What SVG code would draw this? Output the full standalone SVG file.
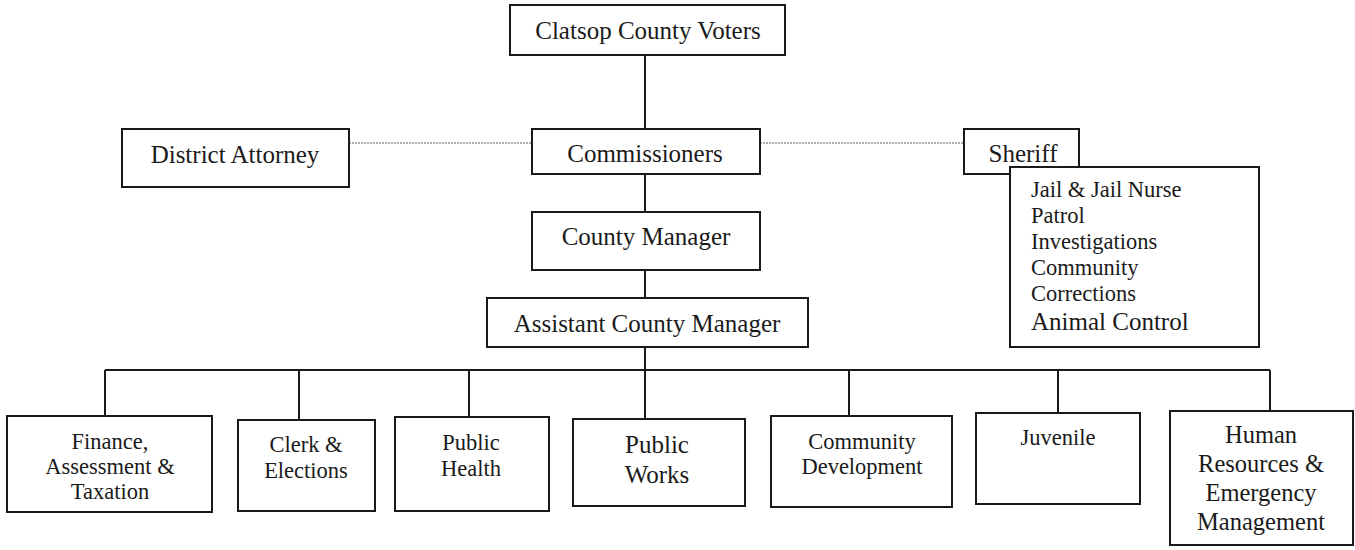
<svg xmlns="http://www.w3.org/2000/svg" width="1355" height="550" viewBox="0 0 1355 550">
<style>
.b{fill:#fff;stroke:#1a1a1a;stroke-width:2}
.l{stroke:#1a1a1a;stroke-width:2;fill:none}
.d{stroke:#b0b0b0;stroke-width:2;stroke-dasharray:2 1;fill:none}
text{font-family:"Liberation Serif","Times New Roman",serif;fill:#1a1a1a;text-anchor:middle}
.t{font-size:25px}
.s{font-size:22.5px}
.h{font-size:24.5px}
.m{font-size:22.5px;text-anchor:start}
</style>
<rect width="1355" height="550" fill="#fff"/>
<g id="connectors">
<path class="l" d="M645 55V129M645 174V212M645 270V298M645 347V370M105 370H1270M105 370V416M299 370V420M469 370V417M645 370V419M849 370V416M1058 370V413M1270 370V411"/>
<path class="d" d="M349 143H532M760 143H964"/>
</g>
<g id="voters"><rect class="b" x="510" y="5" width="275" height="50"/><text class="t" x="648" y="39">Clatsop County Voters</text></g>
<g id="da"><rect class="b" x="122" y="129" width="227" height="58"/><text class="t" x="235" y="163">District Attorney</text></g>
<g id="commissioners"><rect class="b" x="532" y="129" width="228" height="45"/><text class="t" x="645" y="162">Commissioners</text></g>
<g id="sheriff"><rect class="b" x="964" y="129" width="115" height="45"/><text class="t" x="1023" y="162">Sheriff</text></g>
<g id="sheriff-units"><rect class="b" x="1010" y="167" width="249" height="180"/>
<text class="m" x="1031" y="197">Jail &amp; Jail Nurse</text>
<text class="m" x="1031" y="223">Patrol</text>
<text class="m" x="1031" y="249">Investigations</text>
<text class="m" x="1031" y="275">Community</text>
<text class="m" x="1031" y="301">Corrections</text>
<text class="m" x="1031" y="330" style="font-size:25px">Animal Control</text></g>
<g id="manager"><rect class="b" x="532" y="212" width="228" height="58"/><text class="t" x="646" y="245">County Manager</text></g>
<g id="acm"><rect class="b" x="487" y="298" width="321" height="49"/><text class="t" x="647" y="332">Assistant County Manager</text></g>
<g id="finance"><rect class="b" x="7" y="416" width="205" height="96"/><text class="s" x="110" y="449">Finance,</text><text class="s" x="110" y="474">Assessment &amp;</text><text class="s" x="110" y="499">Taxation</text></g>
<g id="clerk"><rect class="b" x="238" y="420" width="137" height="91"/><text class="s" x="306" y="452">Clerk &amp;</text><text class="s" x="306" y="478">Elections</text></g>
<g id="health"><rect class="b" x="395" y="417" width="154" height="94"/><text class="s" x="471" y="450">Public</text><text class="s" x="471" y="476">Health</text></g>
<g id="works"><rect class="b" x="573" y="419" width="172" height="87"/><text class="t" x="657" y="453">Public</text><text class="t" x="657" y="483">Works</text></g>
<g id="community"><rect class="b" x="771" y="416" width="181" height="91"/><text class="s" x="862" y="449">Community</text><text class="s" x="862" y="474">Development</text></g>
<g id="juvenile"><rect class="b" x="976" y="413" width="164" height="91"/><text class="s" x="1058" y="445">Juvenile</text></g>
<g id="hr"><rect class="b" x="1170" y="411" width="183" height="134"/><text class="h" x="1261" y="443">Human</text><text class="h" x="1261" y="472">Resources &amp;</text><text class="h" x="1261" y="501">Emergency</text><text class="h" x="1261" y="530">Management</text></g>
</svg>
